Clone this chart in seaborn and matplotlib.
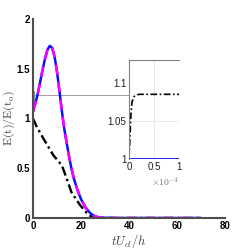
import numpy as np
import pandas as pd
import matplotlib
matplotlib.use("Agg")
import matplotlib.pyplot as plt
import seaborn as sns
from matplotlib.patches import Rectangle

# ---- data ----
t_main = [0, 1, 2, 3, 4, 5, 6, 7, 8, 9, 10, 11, 12, 13, 14, 15, 16, 17, 18, 19, 20,
          22, 24, 26, 28, 30, 35, 40, 50, 60, 70]
e_blue = [1.08, 1.15, 1.25, 1.37, 1.49, 1.60, 1.69, 1.73, 1.71, 1.62, 1.47, 1.28, 1.08,
          0.90, 0.76, 0.62, 0.50, 0.40, 0.32, 0.25, 0.19, 0.10, 0.045, 0.015, 0.005,
          0.002, 0.0, 0.0, 0.0, 0.0, 0.0]
e_magenta = e_blue

t_black = [0, 1.5, 4.3, 8.5, 12, 14, 16, 19.6, 22.4, 24.4, 27, 30, 40, 50, 60, 70]
e_black = [1.0, 0.92, 0.80, 0.63, 0.53, 0.40, 0.26, 0.13, 0.05, 0.01, 0.002, 0.0,
           0.0, 0.0, 0.0, 0.0]

t_inset = [0, 0.02e-4, 0.04e-4, 0.06e-4, 0.1e-4, 0.15e-4, 0.2e-4, 0.5e-4, 1.0e-4]
e_inset_black = [1.0, 1.03, 1.06, 1.075, 1.082, 1.084, 1.085, 1.085, 1.085]
e_inset_blue = [1.0, 1.0, 1.0, 1.0, 1.0, 1.0, 1.0, 1.0, 1.0]

main_xticks = [0, 20, 40, 60, 80]
main_yticks = [0, 0.5, 1, 1.5, 2]
main_yticklabels = ["0", "0.5", "1", "1.5", "2"]
inset_xticks = [0, 0.5e-4, 1e-4]
inset_xticklabels = ["0", "0.5", "1"]
inset_yticks = [1, 1.05, 1.1]
inset_yticklabels = ["1", "1.05", "1.1"]
inset_xscale_text = r"$\times 10^{-4}$"

sns.set_style("white")
plt.rcParams["font.family"] = ["Liberation Sans", "DejaVu Sans"]
plt.rcParams["mathtext.fontset"] = "cm"

fig = plt.figure(figsize=(2.49, 2.49), dpi=100)
ax = fig.add_axes([0.1325, 0.1245, 0.7711, 0.7992])

dashdot = (0, (4, 1.5, 1, 1.5))
sns.lineplot(x=t_black, y=e_black, ax=ax, color="black", lw=1.7, linestyle=dashdot)
sns.lineplot(x=t_main, y=e_blue, ax=ax, color="#1010ff", lw=1.8)
sns.lineplot(x=t_main, y=e_magenta, ax=ax, color="#ff00ff", lw=1.8, linestyle=(0, (4, 3)))

ax.set_xlim(0, 80)
ax.set_ylim(0, 2)
ax.set_xticks(main_xticks)
ax.set_xticklabels([str(v) for v in main_xticks])
ax.set_yticks(main_yticks)
ax.set_yticklabels(main_yticklabels)
for lbl in ax.get_xticklabels() + ax.get_yticklabels():
    lbl.set_fontweight("bold")
    lbl.set_fontsize(7)
    lbl.set_color("black")
ax.tick_params(direction="in", length=2, width=0.8, color="#404040", pad=2)
for s in ["top", "right"]:
    ax.spines[s].set_visible(False)
for s in ["left", "bottom"]:
    ax.spines[s].set_color("#4d4d4d")
    ax.spines[s].set_linewidth(1.5)

ax.set_xlabel(r"$tU_{cl}/h$", fontsize=9, color="#404040", labelpad=1)
ax.set_ylabel(r"$\mathrm{E(t)/E(t_o)}$", fontsize=8.5, color="#404040", labelpad=0)

# zoom indicator
ax.add_patch(Rectangle((0, 1.08), 0.5, 0.2, fill=False, edgecolor="#909090", lw=0.8, zorder=1))
ax.plot([0.6, 40], [1.235, 1.235], color="#909090", lw=0.6, zorder=1)

# inset
axi = fig.add_axes([0.518, 0.361, 0.201, 0.398])
axi.axvline(0.5e-4, color="#e6e6e6", lw=0.6, zorder=0)
axi.axhline(1.05, color="#e6e6e6", lw=0.6, zorder=0)
sns.lineplot(x=t_inset, y=e_inset_blue, ax=axi, color="#1010ff", lw=2.0)
sns.lineplot(x=t_inset, y=e_inset_black, ax=axi, color="black", lw=1.2, linestyle=dashdot)
axi.set_xlim(0, 1e-4)
axi.set_ylim(1, 1.13)
axi.set_xticks(inset_xticks)
axi.set_xticklabels(inset_xticklabels)
axi.set_yticks(inset_yticks)
axi.set_yticklabels(inset_yticklabels)
axi.tick_params(direction="in", length=2, width=0.6, color="#606060", labelsize=7, pad=2,
                labelcolor="#202020")
axi.text(1.0, -0.17, inset_xscale_text, transform=axi.transAxes, ha="right", va="top",
         fontsize=7, color="#707070")
axi.spines["right"].set_visible(False)
axi.spines["bottom"].set_visible(False)
axi.spines["top"].set_color("#808080")
axi.spines["left"].set_color("#808080")
axi.spines["top"].set_linewidth(0.8)
axi.spines["left"].set_linewidth(0.8)
axi.patch.set_facecolor("white")

fig.savefig("out.png", dpi=100)
